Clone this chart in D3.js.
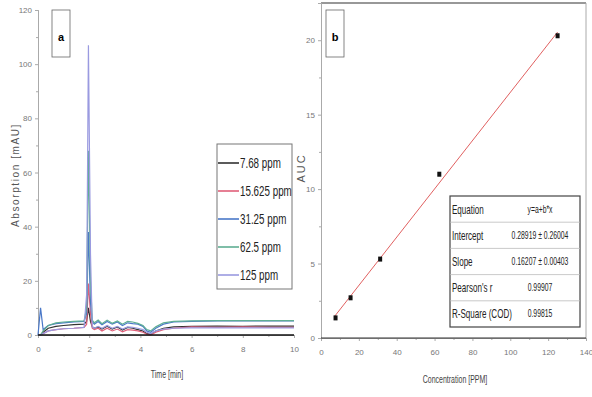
<!DOCTYPE html>
<html>
<head>
<meta charset="utf-8">
<script src="https://cdn.jsdelivr.net/npm/d3@7"></script>
<style>
  body { margin: 0; background: #fff; }
  svg { display: block; font-family: "Liberation Sans", Arial, sans-serif; }
</style>
</head>
<body>
<div id="chart"></div>
<script>
// chromatogram (panel a)
const times = [0, 0.1, 0.2, 0.4, 0.7, 1.0, 1.4, 1.8, 1.9, 1.97, 2.05, 2.12, 2.2, 2.35, 2.5, 2.7, 2.9, 3.1, 3.3, 3.5, 3.7, 3.9, 4.1, 4.25, 4.4, 4.6, 4.9, 5.3, 6, 7, 8, 9, 10];
const seriesNames = ['7.68 ppm', '15.625 ppm', '31.25 ppm', '62.5 ppm', '125 ppm'];
const seriesColors = ['#333333', '#e0607a', '#4a78c8', '#5fae93', '#9a9ae0'];
const s768 = [0, 0, 1, 2.5, 3.2, 3.5, 3.8, 4.0, 5, 10, 5, 3, 2.5, 3, 2.2, 3.2, 2.2, 3.0, 1.8, 2.8, 2.5, 2.0, 1.5, 0.5, 0.3, 1.5, 2.5, 3, 3.2, 3.3, 3.2, 3.3, 3.3];
const s15625 = [0, 0, 0.5, 1.5, 2, 2.3, 2.5, 2.8, 4, 19, 8, 2.5, 2, 2.5, 1.5, 2.5, 1.5, 2.2, 1.2, 2, 1.8, 1.5, 1, 0.3, 0, 1, 2, 2.5, 3, 2.8, 3, 2.8, 2.8];
const s3125 = [0, 10, 2, 3.5, 4.2, 4.5, 4.8, 5, 8, 38, 12, 5, 4, 5, 3.8, 5, 4, 4.8, 3.5, 4.5, 4.2, 4, 3.2, 1.5, 1, 2.5, 4, 4.8, 5, 5.2, 5.2, 5.2, 5.2];
const s625 = [0, 0, 1.5, 3.5, 4.5, 4.8, 5, 5.2, 10, 68, 20, 5.5, 4.5, 5.5, 4.2, 5.5, 4.3, 5.2, 4, 5, 4.8, 4.3, 3.5, 2, 1.5, 3, 4.5, 5, 5.2, 5.3, 5.3, 5.3, 5.3];
const s125 = [0, 0, 0.5, 1.5, 2, 2.3, 2.5, 2.8, 15, 107, 30, 3, 2.5, 3.2, 2.5, 3.5, 2.5, 3.2, 2.2, 3, 2.8, 2.5, 2, 1, 0.5, 1.5, 2.2, 2.5, 2.6, 2.6, 2.6, 2.6, 2.6];
const seriesValues = [s768, s15625, s3125, s625, s125];
const timeTicks = [0, 2, 4, 6, 8, 10];
const absTicks = [0, 20, 40, 60, 80, 100, 120];

// calibration (panel b)
const concentrations = [7.68, 15.625, 31.25, 62.5, 125];
const aucValues = [1.35, 2.7, 5.3, 11.0, 20.3];
const fitIntercept = 0.28919;
const fitSlope = 0.16207;
const concTicks = [0, 20, 40, 60, 80, 100, 120, 140];
const aucTicks = [0, 5, 10, 15, 20];
const tableLabels = ['Equation', 'Intercept', 'Slope', "Pearson's r", 'R-Square (COD)'];
const tableValues = ['y=a+b*x', '0.28919 \u00b1 0.26004', '0.16207 \u00b1 0.00403', '0.99907', '0.99815'];

const svg = d3.select('#chart').append('svg')
  .attr('width', 592)
  .attr('height', 397);

// the figure's text is horizontally squeezed, so draw it narrowed
function narrowText(sel, x, y, sx) {
  return sel.attr('transform', `translate(${x},${y}) scale(${sx},1)`);
}

// ---------- panel a ----------
const xA = d3.scaleLinear().domain([0, 10]).range([38, 294]);
const yA = d3.scaleLinear().domain([0, 120]).range([335, 10]);

const gA = svg.append('g');

gA.append('g')
  .attr('transform', 'translate(38,0)')
  .call(d3.axisLeft(yA).tickValues(absTicks).tickSize(3).tickPadding(3));
gA.append('g')
  .attr('transform', 'translate(38,0)')
  .call(d3.axisLeft(yA).tickValues(d3.range(10, 120, 20)).tickSize(2).tickFormat(''));
gA.append('g')
  .attr('transform', 'translate(0,335)')
  .call(d3.axisBottom(xA).tickValues(timeTicks).tickSize(3).tickPadding(8));
gA.append('g')
  .attr('transform', 'translate(0,335)')
  .call(d3.axisBottom(xA).tickValues(d3.range(1, 10, 2)).tickSize(2).tickFormat(''));

gA.selectAll('.domain').attr('stroke', '#aaa');
gA.selectAll('.tick line').attr('stroke', '#aaa');
gA.selectAll('.tick text').style('font-size', '8px').attr('fill', '#777');

const lineA = d3.line()
  .x((d, i) => xA(times[i]))
  .y(d => yA(d));

seriesValues.forEach((vals, k) => {
  gA.append('path')
    .datum(vals)
    .attr('fill', 'none')
    .attr('stroke', seriesColors[k])
    .attr('stroke-width', 1.2)
    .attr('d', lineA);
});

// zero baseline
gA.append('line')
  .attr('x1', xA(0)).attr('x2', xA(10))
  .attr('y1', yA(0)).attr('y2', yA(0))
  .attr('stroke', '#111').attr('stroke-width', 1.6);

gA.append('text')
  .attr('transform', `translate(19,175) rotate(-90)`)
  .attr('text-anchor', 'middle')
  .style('font-size', '10px')
  .style('letter-spacing', '1.6px')
  .attr('fill', '#555')
  .text('Absorption [mAU]');

narrowText(gA.append('text'), 167, 378, 0.7)
  .attr('text-anchor', 'middle')
  .style('font-size', '10px')
  .attr('fill', '#444')
  .text('Time [min]');

// panel label
gA.append('rect')
  .attr('x', 52).attr('y', 10).attr('width', 18).attr('height', 47)
  .attr('fill', '#fff').attr('stroke', '#666').attr('stroke-width', 0.8);
gA.append('text')
  .attr('x', 61).attr('y', 41)
  .attr('text-anchor', 'middle')
  .style('font-size', '11px').style('font-weight', 'bold')
  .text('a');

// legend
const legA = gA.append('g').attr('transform', 'translate(217,144)');
legA.append('rect')
  .attr('width', 75).attr('height', 145)
  .attr('fill', '#fff').attr('stroke', '#777').attr('stroke-width', 1);
const legItems = legA.selectAll('.leg')
  .data(seriesNames)
  .enter().append('g')
  .attr('transform', (d, i) => `translate(0,${19 + i * 28})`);
legItems.append('line')
  .attr('x1', 1).attr('x2', 22)
  .attr('stroke', (d, i) => seriesColors[i])
  .attr('stroke-width', 1.6);
legItems.append('text')
  .attr('transform', 'translate(23,5) scale(0.7,1)')
  .style('font-size', '14px')
  .attr('fill', '#222')
  .text(d => d);

// ---------- panel b ----------
const xB = d3.scaleLinear().domain([0, 140]).range([321, 586]);
const yB = d3.scaleLinear().domain([0, 22.5]).range([338, 3]);

const gB = svg.append('g');

// frame
gB.append('line').attr('x1', 321).attr('x2', 586).attr('y1', 3).attr('y2', 3)
  .attr('stroke', '#333').attr('stroke-width', 1.2);
gB.append('line').attr('x1', 586).attr('x2', 586).attr('y1', 3).attr('y2', 338)
  .attr('stroke', '#aaa').attr('stroke-width', 1);

gB.append('g')
  .attr('transform', 'translate(321,0)')
  .call(d3.axisLeft(yB).tickValues(aucTicks).tickSize(3).tickPadding(3));
gB.append('g')
  .attr('transform', 'translate(321,0)')
  .call(d3.axisLeft(yB).tickValues([2.5, 7.5, 12.5, 17.5]).tickSize(2).tickFormat(''));
gB.append('g')
  .attr('transform', 'translate(0,338)')
  .call(d3.axisBottom(xB).tickValues(concTicks).tickSize(3).tickPadding(8));
gB.append('g')
  .attr('transform', 'translate(0,338)')
  .call(d3.axisBottom(xB).tickValues(d3.range(10, 140, 20)).tickSize(2).tickFormat(''));

gB.selectAll('.domain').attr('stroke', '#aaa');
gB.selectAll('.tick line').attr('stroke', '#aaa');
gB.selectAll('.tick text').style('font-size', '8px').attr('fill', '#777');
// darker bottom axis line
gB.append('line').attr('x1', 321).attr('x2', 586).attr('y1', 338).attr('y2', 338)
  .attr('stroke', '#333').attr('stroke-width', 1.2);

// fit line
const fitX = [7, 125];
gB.append('line')
  .attr('x1', xB(fitX[0])).attr('y1', yB(fitIntercept + fitSlope * fitX[0]))
  .attr('x2', xB(fitX[1])).attr('y2', yB(fitIntercept + fitSlope * fitX[1]))
  .attr('stroke', '#e06060').attr('stroke-width', 1);

gB.selectAll('.pt')
  .data(concentrations)
  .enter().append('rect')
  .attr('x', d => xB(d) - 2)
  .attr('y', (d, i) => yB(aucValues[i]) - 2.5)
  .attr('width', 4).attr('height', 5)
  .attr('fill', '#111');

gB.append('text')
  .attr('transform', `translate(305,168) rotate(-90)`)
  .attr('text-anchor', 'middle')
  .style('font-size', '11px')
  .style('letter-spacing', '2px')
  .attr('fill', '#555')
  .text('AUC');

narrowText(gB.append('text'), 455, 383, 0.7)
  .attr('text-anchor', 'middle')
  .style('font-size', '10px')
  .attr('fill', '#444')
  .text('Concentration [PPM]');

gB.append('rect')
  .attr('x', 326).attr('y', 10).attr('width', 18).attr('height', 47)
  .attr('fill', '#fff').attr('stroke', '#666').attr('stroke-width', 0.8);
gB.append('text')
  .attr('x', 335).attr('y', 41)
  .attr('text-anchor', 'middle')
  .style('font-size', '11px').style('font-weight', 'bold')
  .text('b');

// stats table
const tbl = gB.append('g').attr('transform', 'translate(450,196)');
const rowH = 26.2;
tbl.append('rect')
  .attr('width', 130).attr('height', rowH * 5)
  .attr('fill', '#fff').attr('stroke', '#444').attr('stroke-width', 1.2);
const rows = tbl.selectAll('.row')
  .data(tableLabels)
  .enter().append('g')
  .attr('transform', (d, i) => `translate(0,${i * rowH})`);
rows.filter((d, i) => i > 0).append('line')
  .attr('x1', 0).attr('x2', 130)
  .attr('stroke', '#bbb').attr('stroke-width', 0.8);
rows.append('text')
  .attr('transform', `translate(2,${rowH / 2 + 4.5}) scale(0.62,1)`)
  .style('font-size', '13px')
  .attr('fill', '#222')
  .text(d => d);
rows.append('text')
  .attr('transform', `translate(90,${rowH / 2 + 3.5}) scale(0.62,1)`)
  .attr('text-anchor', 'middle')
  .style('font-size', '11px')
  .attr('fill', '#222')
  .text((d, i) => tableValues[i]);
</script>
</body>
</html>
